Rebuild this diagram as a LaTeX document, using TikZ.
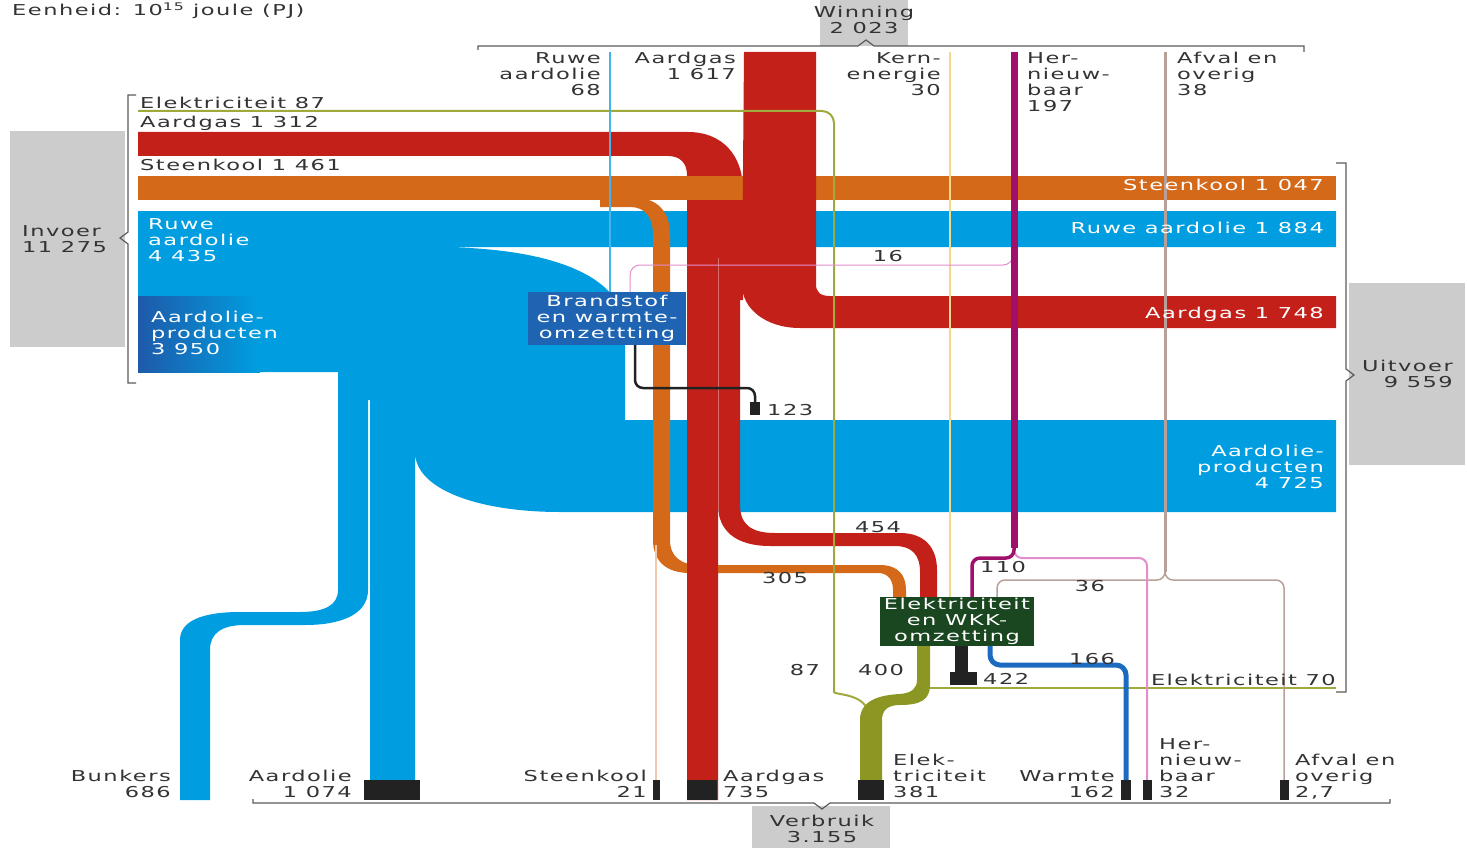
\documentclass[tikz,border=0pt]{standalone}
\usepackage{fontspec}
\setmainfont{DejaVu Sans}[FakeStretch=1.5,LetterSpace=10]
\usepackage{xcolor}
\usetikzlibrary{positioning}
\usetikzlibrary{backgrounds}

\definecolor{cblue}{RGB}{0,158,224}
\definecolor{cdarkblue}{RGB}{30,90,170}
\definecolor{clblue}{RGB}{70,180,235}
\definecolor{cred}{RGB}{196,32,26}
\definecolor{corange}{RGB}{212,105,26}
\definecolor{cpeach}{RGB}{244,200,170}
\definecolor{colive}{RGB}{140,150,35}
\definecolor{colivel}{RGB}{160,170,60}
\definecolor{cgreen}{RGB}{26,70,32}
\definecolor{cboxblue}{RGB}{30,100,178}
\definecolor{cmag}{RGB}{160,16,106}
\definecolor{cpink}{RGB}{228,140,204}
\definecolor{cbrown}{RGB}{184,160,152}
\definecolor{cyellow}{RGB}{243,217,140}
\definecolor{cwarm}{RGB}{27,108,192}
\definecolor{cgray}{RGB}{204,204,204}
\definecolor{ctext}{RGB}{51,51,51}
\definecolor{ccap}{RGB}{34,34,34}
\definecolor{cbracket}{RGB}{90,90,90}

\newcommand\lblfont{\fontsize{15}{16}\selectfont}

\begin{document}
\begin{tikzpicture}[x=1pt,y=-1pt,
  lbl/.style={font=\lblfont,text=ctext,inner sep=0pt},
  wlbl/.style={lbl,text=white},
  bracket/.style={draw=cbracket,line width=1.2pt},
  greybox/.style={fill=cgray},
  capbar/.style={fill=ccap},
  omzet/.style={font=\lblfont,text=white,inner sep=0pt,align=center,
    minimum width=158,minimum height=53}]
\useasboundingbox (0,0) rectangle (1467,848);

% omzetting boxes
\node[omzet,fill=cboxblue] (brandstof) at (607,318.5) {Brandstof\\en warmte-\\omzettting};
\node[omzet,fill=cgreen,minimum width=154,minimum height=49] (wkk) at (957,621.5) {Elektriciteit\\en WKK-\\omzetting};

% winning sources
\coordinate (w68) at (610,52);
\coordinate (wgas) at (780,52);
\coordinate (wkern) at (950,52);
\coordinate (whern) at (1014,52);
\coordinate (wafval) at (1165,52);

\begin{scope}[on background layer]
\fill[greybox] (820,0) rectangle (908,46);
\fill[greybox] (10,131) rectangle (125,347);
\fill[greybox] (1349,283) rectangle (1465,465);
\fill[greybox] (752,806) rectangle (890,848);

% aardolie
\fill[cblue] (138,211) -- (1336,211) -- (1336,247) -- (433,247)
  .. controls (560,247) and (625,280) .. (625,330) -- (625,420) -- (1336,420)
  -- (1336,512) -- (560,512) .. controls (480,512) and (415,490) .. (415,452)
  -- (415,780) -- (370,780) -- (370,400) -- (338,400) -- (338,372) -- (138,372) -- cycle;
\shade[left color=cdarkblue,right color=cblue] (138,296) rectangle (260,372);
\fill[cblue] (338,380) -- (338,590) .. controls (338,605) and (325,612) .. (300,612)
  -- (240,612) .. controls (200,612) and (180,622) .. (180,640) -- (180,800)
  -- (210,800) -- (210,650) .. controls (210,633) and (222,625) .. (245,625)
  -- (305,625) .. controls (340,625) and (368,615) .. (368,590) -- (368,380) -- cycle;

% aardgas invoer
\fill[cred] (138,132) -- (688,132) .. controls (722,132) and (743,155) .. (743,190)
  -- (743,300) -- (718,300) -- (718,800) -- (687,800) -- (687,175)
  .. controls (687,163) and (680,156) .. (668,156) -- (138,156) -- cycle;

% steenkool
\fill[corange] (138,176) rectangle (1336,200);
\fill[corange] (600,198) -- (635,198) .. controls (658,198) and (670,212) .. (670,235)
  -- (670,540) .. controls (670,556) and (680,565) .. (700,565) -- (880,565)
  .. controls (898,565) and (906,575) .. (906,590) -- (906,597) -- (893,597) -- (893,590)
  .. controls (893,580) and (888,573) .. (878,573) -- (690,573)
  .. controls (665,573) and (653,560) .. (653,540) -- (653,235)
  .. controls (653,217) and (645,207) .. (630,207) -- (600,207) -- cycle;
\draw[cpeach,line width=2] (656,545) -- (656,780);

% aardgas winning en uitvoer
\fill[cred] (687,200) rectangle (718,800);
\fill[cred] (744,52) -- (816,52) -- (816,284) .. controls (816,292) and (820,296) .. (830,296)
  -- (1336,296) -- (1336,328) -- (800,328) .. controls (765,328) and (742,308) .. (742,285) -- cycle;
\fill[cred] (718,290) -- (740,290) -- (740,505) .. controls (740,525) and (752,533) .. (775,533)
  -- (900,533) .. controls (925,533) and (937,548) .. (937,570) -- (937,597) -- (920,597)
  -- (920,572) .. controls (920,555) and (912,546) .. (895,546) -- (770,546)
  .. controls (735,546) and (718,530) .. (718,505) -- cycle;
\draw[white,opacity=.35,line width=.8] (718,258) -- (718,515);

% elektriciteit
\draw[colivel,line width=2,rounded corners=12] (138,111) -- (834,111) -- (834,680)
  .. controls (834,695) and (864,693) .. (868,712);
\fill[colive] (917,646) -- (930,646) -- (930,685) .. controls (930,700) and (920,705) .. (900,705)
  .. controls (888,705) and (882,710) .. (882,720) -- (882,780) -- (860,780) -- (860,720)
  .. controls (860,700) and (880,695) .. (900,694) .. controls (912,693) and (917,688) .. (917,680) -- cycle;
\draw[colivel,line width=2] (930,688) -- (1336,688);

% kernenergie, ruwe aardolie winning
\draw[cyellow,line width=2] (wkern) -- (wkern |- wkk.north);
\draw[clblue,line width=2] (w68) -- (w68 |- brandstof.north);

% afval en overig
\draw[cbrown,line width=3] (wafval) -- (1165,572);
\draw[cbrown,line width=1.5,rounded corners=8] (1165,565) -- (1165,580) -- (997,580) -- (997,597);
\draw[cbrown,line width=1.5,rounded corners=8] (1165,565) -- (1165,580) -- (1284,580) -- (1284,780);

% hernieuwbaar
\draw[cpink,line width=1,rounded corners=10] (1013,240) -- (1013,265) -- (630,265) -- (630,292);
\draw[cpink,line width=2,rounded corners=8] (1014,540) -- (1014,558) -- (1147,558) -- (1147,780);
\draw[cmag,line width=7] (whern) -- (1014,548);
\draw[cmag,line width=3.5,rounded corners=8] (1014,540) -- (1014,558) -- (972,558) -- (972,597);

% warmte
\draw[cwarm,line width=5,rounded corners=10] (990,640) -- (990,665) -- (1126,665) -- (1126,780);

% verliezen
\draw[ccap,line width=2.5,rounded corners=8] (635,340) -- (635,388) -- (755,388) -- (755,405);
\fill[capbar] (750,402) rectangle (760,415);
\fill[capbar] (955,640) rectangle (968,672);
\fill[capbar] (950,672) rectangle (977,685);

% verbruik
\fill[capbar] (364,780) rectangle (420,800);
\fill[capbar] (653,780) rectangle (660,800);
\fill[capbar] (687,780) rectangle (717,800);
\fill[capbar] (858,780) rectangle (884,800);
\fill[capbar] (1121,780) rectangle (1131,800);
\fill[capbar] (1143,780) rectangle (1152,800);
\fill[capbar] (1280,780) rectangle (1289,800);
\end{scope}

% haken
\draw[bracket] (478,50) -- (478,46) -- (858,46) -- (866,40) -- (874,46) -- (1304,46) -- (1304,52);
\draw[bracket] (136,95) -- (128,95) -- (128,232) -- (120,238) -- (128,244) -- (128,383) -- (136,383);
\draw[bracket] (1336,163) -- (1346,163) -- (1346,369) -- (1354,375) -- (1346,381) -- (1346,692) -- (1336,692);
\draw[bracket] (253,799) -- (253,803) -- (814,803) -- (822,809) -- (830,803) -- (1390,803) -- (1390,799);

% teksten
\node[lbl,anchor=base west] (eenheid) at (12,16) {Eenheid: 10\textsuperscript{15} joule (PJ)};
\node[lbl,anchor=north,align=center] (winning) at (864,6) {Winning\\2 023};
\node[lbl,anchor=north east,align=right] (ruwe68) at (601,52) {Ruwe\\aardolie\\68};
\node[lbl,anchor=north east,align=right] (gas1617) at (736,52) {Aardgas\\1 617};
\node[lbl,anchor=north east,align=right] (kern30) at (941,52) {Kern-\\energie\\30};
\node[lbl,anchor=north west,align=left] (hern197) at (1027,52) {Her-\\nieuw-\\baar\\197};
\node[lbl,anchor=north west,align=left] (afval38) at (1177,52) {Afval en\\overig\\38};

\node[lbl,anchor=base west] (elek87) at (140,109) {Elektriciteit 87};
\node[lbl,anchor=base west] (gas1312) at (140,128) {Aardgas 1 312};
\node[lbl,anchor=base west] (kool1461) at (140,171) {Steenkool 1 461};
\node[wlbl,anchor=north west,align=left] (ruwe4435) at (148,218) {Ruwe\\aardolie\\4 435};
\node[wlbl,anchor=north west,align=left] (prod3950) at (151,311) {Aardolie-\\producten\\3 950};
\node[lbl,anchor=north west,align=left] (invoer) at (22,225) {Invoer\\11 275};

\node[wlbl,anchor=base east] (kool1047) at (1324,190) {Steenkool 1 047};
\node[wlbl,anchor=base east] (ruwe1884) at (1324,233) {Ruwe aardolie 1 884};
\node[wlbl,anchor=base east] (gas1748) at (1324,318) {Aardgas 1 748};
\node[wlbl,anchor=north east,align=right] (prod4725) at (1324,445) {Aardolie-\\producten\\4 725};
\node[lbl,anchor=north east,align=right] (uitvoer) at (1453,360) {Uitvoer\\9 559};

\node[lbl,anchor=base] (f16) at (888,261) {16};
\node[lbl,anchor=base west] (f123) at (767,415) {123};
\node[lbl,anchor=base] (f454) at (878,532) {454};
\node[lbl,anchor=base] (f305) at (785,583) {305};
\node[lbl,anchor=base] (f110) at (1003,572) {110};
\node[lbl,anchor=base] (f36) at (1090,591) {36};
\node[lbl,anchor=base] (f166) at (1092,664) {166};
\node[lbl,anchor=base] (f87) at (805,675) {87};
\node[lbl,anchor=base] (f400) at (881,675) {400};
\node[lbl,anchor=base west] (f422) at (983,684) {422};
\node[lbl,anchor=base east] (elek70) at (1336,685) {Elektriciteit 70};

\node[lbl,anchor=north east,align=right] (bunkers) at (171,770) {Bunkers\\686};
\node[lbl,anchor=north east,align=right] (olie1074) at (352,770) {Aardolie\\1 074};
\node[lbl,anchor=north east,align=right] (kool21) at (647,770) {Steenkool\\21};
\node[lbl,anchor=north west,align=left] (gas735) at (723,770) {Aardgas\\735};
\node[lbl,anchor=north west,align=left] (elek381) at (893,754) {Elek-\\triciteit\\381};
\node[lbl,anchor=north east,align=right] (warmte) at (1115,770) {Warmte\\162};
\node[lbl,anchor=north west,align=left] (hern32) at (1159,738) {Her-\\nieuw-\\baar\\32};
\node[lbl,anchor=north west,align=left] (afval27) at (1295,754) {Afval en\\overig\\2,7};
\node[lbl,anchor=north,align=center] (verbruik) at (822,815) {Verbruik\\3.155};
\end{tikzpicture}
\end{document}
